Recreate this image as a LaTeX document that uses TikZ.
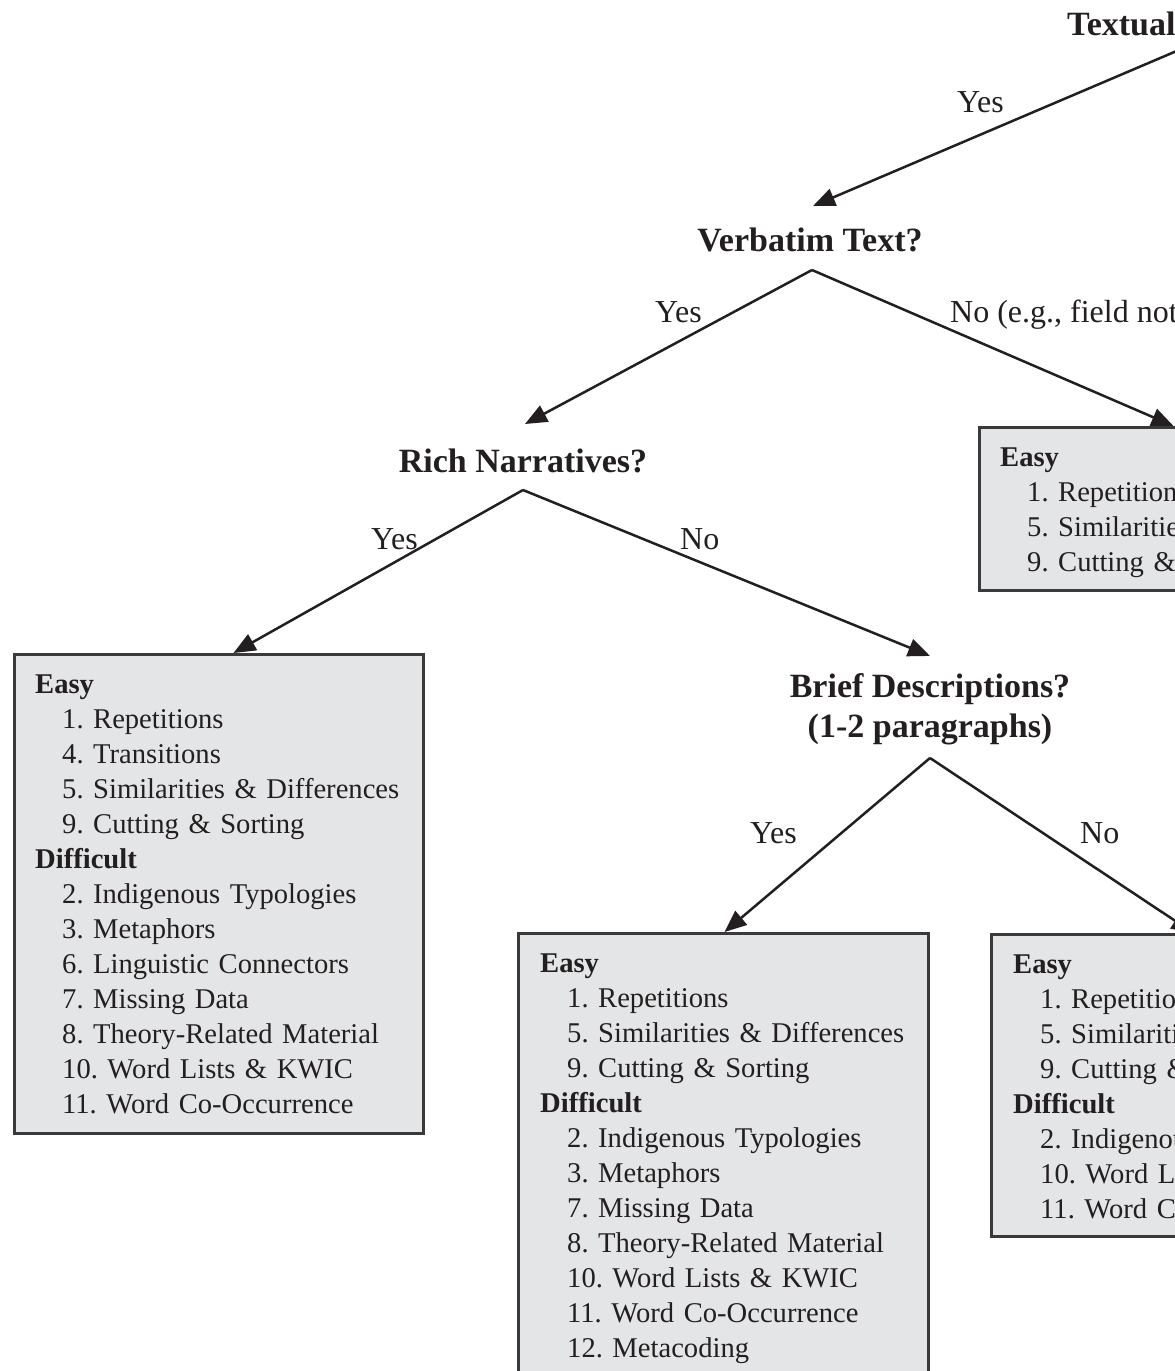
\documentclass[tikz,border=0pt]{standalone}
\usepackage{fontspec}
\setmainfont{Liberation Serif}
\usetikzlibrary{arrows.meta}
\definecolor{ink}{HTML}{231F20}
\definecolor{boxfill}{HTML}{E4E5E6}
\definecolor{boxline}{HTML}{3A3A3A}
\frenchspacing
\tikzset{
  heading/.style={font=\fontsize{34}{40}\selectfont\bfseries, text=ink, align=center, inner xsep=0pt},
  lbl/.style={font=\fontsize{32}{38}\selectfont, text=ink, inner sep=0pt, anchor=base west},
  tbox/.style={draw=boxline, line width=3pt, fill=boxfill, anchor=north west, inner sep=0pt},
  boxtext/.style={font=\fontsize{28.6}{35}\selectfont, text=ink, anchor=base west, inner sep=0pt, text width=420pt, align=left},
  arr/.style={draw=ink, line width=2.5pt, -{Triangle[length=22pt,width=18pt]}}
}
\newcommand{\itm}[1]{\hspace*{27pt}#1}
\begin{document}
\begin{tikzpicture}[x=1pt,y=-1pt]
\useasboundingbox (0,0) rectangle (1175,1371);
\clip (0,0) rectangle (1175,1371);

% headings
\node[heading, inner sep=0pt, anchor=base west] (td) at (1067,35) {Textual};
\node[heading, inner ysep=18pt, text depth=0pt, anchor=south] (vt) at (810,270) {Verbatim Text?};
\node[heading, inner ysep=17pt, text depth=0pt, anchor=south] (rn) at (523,490) {Rich Narratives?};
\node[heading, inner ysep=12.6pt, anchor=south] (bd) at (930,758) {Brief Descriptions?\\(1-2 paragraphs)};

% boxes
\node[tbox, minimum width=409pt, minimum height=479pt] (lb) at (13,653) {};
\node[tbox, minimum width=410pt, minimum height=480pt] (mb) at (517,932) {};
\node[tbox, minimum width=410pt, minimum height=163pt] (r1) at (978,426) {};
\node[tbox, minimum width=410pt, minimum height=302pt] (r2) at (990,933) {};

\node[boxtext] (lbt) at (35,693) {\textbf{Easy}\\
\itm{1. Repetitions}\\
\itm{4. Transitions}\\
\itm{5. Similarities \& Differences}\\
\itm{9. Cutting \& Sorting}\\
\textbf{Difficult}\\
\itm{2. Indigenous Typologies}\\
\itm{3. Metaphors}\\
\itm{6. Linguistic Connectors}\\
\itm{7. Missing Data}\\
\itm{8. Theory-Related Material}\\
\itm{10. Word Lists \& KWIC}\\
\itm{11. Word Co-Occurrence}};

\node[boxtext] (mbt) at (540,972) {\textbf{Easy}\\
\itm{1. Repetitions}\\
\itm{5. Similarities \& Differences}\\
\itm{9. Cutting \& Sorting}\\
\textbf{Difficult}\\
\itm{2. Indigenous Typologies}\\
\itm{3. Metaphors}\\
\itm{7. Missing Data}\\
\itm{8. Theory-Related Material}\\
\itm{10. Word Lists \& KWIC}\\
\itm{11. Word Co-Occurrence}\\
\itm{12. Metacoding}};

\node[boxtext] (r1t) at (1000,466) {\textbf{Easy}\\
\itm{1. Repetitions}\\
\itm{5. Similarities \& Differences}\\
\itm{9. Cutting \& Sorting}};

\node[boxtext] (r2t) at (1013,973) {\textbf{Easy}\\
\itm{1. Repetitions}\\
\itm{5. Similarities \& Differences}\\
\itm{9. Cutting \& Sorting}\\
\textbf{Difficult}\\
\itm{2. Indigenous Typologies}\\
\itm{10. Word Lists \& KWIC}\\
\itm{11. Word Co-Occurrence}};

% connectors
\coordinate (tsrc) at (1240,24);
\draw[arr] (tsrc) -- ([xshift=3pt,yshift=4pt]vt.north);
\draw[arr] ([xshift=2pt]vt.south) -- ([xshift=2pt,yshift=8pt]rn.north);
\draw[arr] ([xshift=2pt]vt.south) -- ([xshift=-11pt]r1.north);
\draw[arr] (rn.south) -- ([xshift=14.5pt]lb.north);
\draw[arr] (rn.south) -- ([xshift=0pt,yshift=5pt]bd.north);
\draw[arr] (bd.south) -- ([xshift=1pt]mb.north);
\draw[arr] (bd.south) -- ([xshift=-3pt]r2.north);

% labels
\node[lbl] (l1) at (957,112) {Yes};
\node[lbl] (l2) at (655,322) {Yes};
\node[lbl] (l3) at (950,322) {No (e.g., field notes)};
\node[lbl] (l4) at (371,549) {Yes};
\node[lbl] (l5) at (680,549) {No};
\node[lbl] (l6) at (750,843) {Yes};
\node[lbl] (l7) at (1080,843) {No};
\end{tikzpicture}
\end{document}
